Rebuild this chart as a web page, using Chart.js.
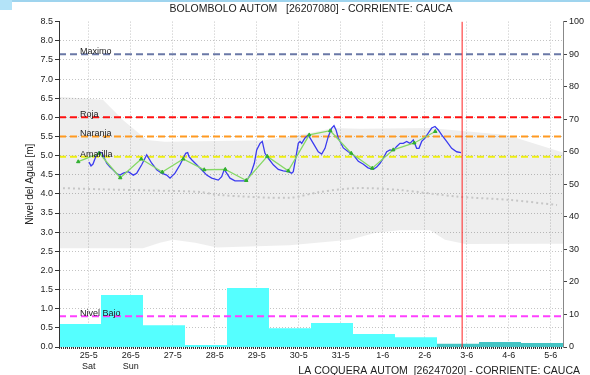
<!DOCTYPE html>
<html>
<head>
<meta charset="utf-8">
<script src="https://cdn.jsdelivr.net/npm/chart.js@4"></script>
<style>
body { margin: 0; background: #fff; }
#marco { position: relative; width: 590px; height: 375px; overflow: hidden; }
#grafico { position: absolute; left: 0; top: 0; }
.linea-sup { position: absolute; left: 0; top: 0; width: 590px; height: 2px; background: #9fd4ee; }
.caja-sup { position: absolute; left: 0; top: 0; width: 12px; height: 10px; background: #b3e3f8; }
</style>
</head>
<body>
<div id="marco">
  <canvas id="grafico" width="590" height="375"></canvas>
  <div class="linea-sup"></div>
  <div class="caja-sup"></div>
</div>
<script>
// Ejes (dias contados desde 24-5 00:00)
const diasEtiquetas = ['25-5', '26-5', '27-5', '28-5', '29-5', '30-5', '31-5', '1-6', '2-6', '3-6', '4-6', '5-6'];
const diasSemana = ['Sat', 'Sun'];
const ejeInicio = 0.2917;
const ejeFin = 12.2917;
const horaActual = 9.89;

const titulo = 'BOLOMBOLO AUTOM   [26207080] - CORRIENTE: CAUCA';
const tituloInferior = 'LA COQUERA AUTOM  [26247020] - CORRIENTE: CAUCA';

// Nivel continuo (linea azul)
const tiempoNivel = [1.006, 1.054, 1.101, 1.173, 1.244, 1.316, 1.427, 1.506, 1.584, 1.672, 1.744, 1.823, 1.942,
  2.061, 2.142, 2.261, 2.380, 2.499, 2.618, 2.737, 2.856, 2.935, 3.054, 3.173, 3.251, 3.308, 3.356, 3.387, 3.451,
  3.570, 3.689, 3.808, 3.927, 4.084, 4.165, 4.227, 4.284, 4.363, 4.482, 4.642, 4.761, 4.863, 4.942, 4.999, 5.078,
  5.132, 5.196, 5.275, 5.394, 5.513, 5.632, 5.751, 5.832, 5.870, 5.934, 5.989, 6.030, 6.070, 6.149, 6.227, 6.346,
  6.465, 6.546, 6.625, 6.704, 6.785, 6.839, 6.887, 6.942, 7.061, 7.180, 7.299, 7.418, 7.530, 7.649, 7.775, 7.856,
  7.935, 8.013, 8.094, 8.173, 8.251, 8.332, 8.411, 8.489, 8.570, 8.649, 8.727, 8.808, 8.863, 8.927, 9.006, 9.085,
  9.165, 9.244, 9.323, 9.403, 9.521, 9.641, 9.760, 9.863];
const nivelAgua = [4.83, 4.73, 4.78, 4.99, 5.10, 5.07, 4.80, 4.70, 4.62, 4.52, 4.49, 4.54, 4.58,
  4.49, 4.54, 4.76, 5.02, 4.80, 4.63, 4.54, 4.49, 4.41, 4.54, 4.76, 4.93, 5.06, 5.08, 4.97, 4.89,
  4.76, 4.63, 4.49, 4.41, 4.36, 4.45, 4.64, 4.54, 4.41, 4.34, 4.34, 4.34, 4.54, 4.80, 5.15, 5.32,
  5.37, 5.06, 4.93, 4.76, 4.64, 4.60, 4.58, 4.54, 4.58, 4.97, 5.32, 5.37, 5.32, 5.46, 5.54, 5.32,
  5.10, 5.04, 5.19, 5.50, 5.72, 5.78, 5.67, 5.46, 5.20, 5.10, 5.02, 4.85, 4.78, 4.68, 4.64, 4.70,
  4.80, 4.93, 5.10, 5.15, 5.13, 5.24, 5.32, 5.32, 5.37, 5.32, 5.41, 5.19, 5.19, 5.37, 5.46, 5.59,
  5.72, 5.76, 5.67, 5.54, 5.37, 5.19, 5.10, 5.08];

// Lecturas de mira (linea verde)
const tiempoMira = [0.75, 1.25, 1.75, 2.25, 2.75, 3.25, 3.75, 4.25, 4.75, 5.25, 5.75, 6.25, 6.75, 7.25, 7.75, 8.25, 8.75, 9.25];
const nivelMira = [4.84, 5.06, 4.42, 4.91, 4.57, 4.91, 4.63, 4.64, 4.35, 4.98, 4.60, 5.54, 5.65, 5.06, 4.67, 5.15, 5.33, 5.63];

// Banda historica y nivel medio
const bandaSupTiempo = [0.2917, 1.339, 1.815, 2.387, 2.815, 5.196, 6.268, 6.816, 7.459, 9.125, 10.958, 12.2917];
const bandaSuperior = [6.54, 6.46, 5.93, 5.41, 5.36, 5.40, 5.59, 5.72, 5.70, 5.72, 5.54, 5.08];
const bandaInfTiempo = [0.2917, 2.292, 2.696, 3.006, 3.53, 4.054, 5.79, 7.22, 7.815, 8.41, 9.125, 9.48, 9.96, 12.2917];
const bandaInferior = [2.58, 2.58, 2.72, 2.80, 2.72, 2.60, 2.66, 2.80, 2.98, 3.05, 3.05, 2.80, 2.69, 2.70];
const mediaTiempo = [0.387, 1.268, 2.458, 3.649, 4.10, 5.79, 6.506, 7.387, 8.41, 9.77, 11.03, 12.15];
const mediaNivel = [4.15, 4.12, 4.09, 4.05, 3.97, 3.90, 4.05, 4.15, 4.10, 3.93, 3.84, 3.71];

// Precipitacion diaria (eje derecho), acumulada de 7h a 7h
const inicioLluvia = [0.2917, 1.2917, 2.2917, 3.2917, 4.2917, 5.2917, 6.2917, 7.2917, 8.2917];
const lluviaObservada = [7.1, 16.0, 6.7, 0.6, 18.1, 5.8, 7.4, 4.0, 3.0];
const inicioPronostico = [9.2917, 10.2917, 11.2917];
const lluviaPronostico = [1.0, 1.55, 1.2];

// Umbrales
const umbralNombres = ['Maximo', 'Roja', 'Naranja', 'Amarilla', 'Nivel Bajo'];
const umbralValores = [7.65, 6.0, 5.5, 4.97, 0.8];

const umbralColores = ['#6a78a6', '#ff1010', '#ff9a20', '#eeee10', '#ff40ff'];
const fuente = '"Liberation Sans", Arial, sans-serif';
Chart.defaults.font.family = fuente;
Chart.defaults.color = '#222';

function puntos(xs, ys) {
  return xs.map((x, i) => ({ x: x, y: ys[i] }));
}
function escalones(inicios, valores) {
  const p = puntos(inicios, valores);
  p.push({ x: inicios[inicios.length - 1] + 1, y: valores[valores.length - 1] });
  return p;
}

const datasets = [];

datasets.push({
  data: puntos(bandaSupTiempo, bandaSuperior), yAxisID: 'y', order: 12,
  borderWidth: 0, borderColor: 'transparent', pointRadius: 0,
  fill: { target: 1 }, backgroundColor: 'rgba(0,0,0,0.065)'
});
datasets.push({
  data: puntos(bandaInfTiempo, bandaInferior), yAxisID: 'y', order: 12,
  borderWidth: 0, borderColor: 'transparent', pointRadius: 0, fill: false
});
datasets.push({
  data: puntos(mediaTiempo, mediaNivel), yAxisID: 'y', order: 11,
  borderColor: '#c6c6c6', borderWidth: 2, borderDash: [2, 3], pointRadius: 0, fill: false, tension: 0.3
});
datasets.push({
  data: escalones(inicioLluvia, lluviaObservada), yAxisID: 'y2', order: 9,
  stepped: 'before', borderWidth: 0, borderColor: 'transparent', pointRadius: 0,
  fill: 'origin', backgroundColor: '#55ffff'
});
datasets.push({
  data: escalones(inicioPronostico, lluviaPronostico), yAxisID: 'y2', order: 9,
  stepped: 'before', borderWidth: 0, borderColor: 'transparent', pointRadius: 0,
  fill: 'origin', backgroundColor: '#45c4c4'
});
umbralNombres.forEach((nombre, i) => {
  datasets.push({
    etiqueta: nombre,
    data: [{ x: ejeInicio, y: umbralValores[i] }, { x: ejeFin, y: umbralValores[i] }],
    yAxisID: 'y', order: 6,
    borderColor: umbralColores[i], borderWidth: 2, borderDash: [7, 4], pointRadius: 0, fill: false
  });
});
datasets.push({
  data: puntos(tiempoNivel, nivelAgua), yAxisID: 'y', order: 3,
  borderColor: '#3b3bef', borderWidth: 1.3, pointRadius: 0, fill: false
});
datasets.push({
  data: puntos(tiempoMira, nivelMira), yAxisID: 'y', order: 2,
  borderColor: '#86d866', borderWidth: 1.3, fill: false,
  pointStyle: 'triangle', pointRadius: 2, pointBackgroundColor: '#2fae2f', pointBorderColor: '#2fae2f', pointBorderWidth: 1
});
datasets.push({
  data: [{ x: horaActual, y: 0 }, { x: horaActual, y: 8.5 }], yAxisID: 'y', order: 1,
  borderColor: '#ff2020', borderWidth: 1, pointRadius: 0, fill: false
});

const decoracion = {
  id: 'decoracion',
  afterDatasetsDraw(chart) {
    const { ctx, chartArea, scales } = chart;
    ctx.save();
    // etiquetas de umbrales
    ctx.font = '9px ' + fuente;
    ctx.fillStyle = '#222';
    ctx.textAlign = 'left';
    ctx.textBaseline = 'alphabetic';
    chart.data.datasets.forEach(ds => {
      if (!ds.etiqueta) return;
      const y = scales.y.getPixelForValue(ds.data[0].y);
      ctx.fillText(ds.etiqueta, chartArea.left + 21, y);
    });
    // eje inferior con marcas horarias
    ctx.strokeStyle = '#333';
    ctx.lineWidth = 2;
    ctx.setLineDash([1, 1]);
    ctx.beginPath();
    ctx.moveTo(chartArea.left, chartArea.bottom + 1);
    ctx.lineTo(chartArea.right, chartArea.bottom + 1);
    ctx.stroke();
    ctx.setLineDash([]);
    // estacion de lluvia
    ctx.font = '10.5px ' + fuente;
    ctx.textAlign = 'right';
    ctx.fillText(tituloInferior, chart.width - 10, chart.height - 1);
    ctx.restore();
  }
};

new Chart(document.getElementById('grafico').getContext('2d'), {
  type: 'line',
  data: { datasets: datasets },
  options: {
    responsive: false,
    animation: false,
    layout: { padding: 0 },
    plugins: {
      legend: { display: false },
      tooltip: { enabled: false },
      title: {
        display: true, text: titulo, fullSize: false,
        font: { size: 10.5, weight: 'normal' }, color: '#222',
        padding: { top: 3, bottom: 6 }
      }
    },
    scales: {
      x: {
        type: 'linear', min: ejeInicio, max: ejeFin,
        afterBuildTicks: s => { s.ticks = diasEtiquetas.map((_, i) => ({ value: i + 1 })); },
        afterFit: s => { s.height = 28; },
        ticks: {
          autoSkip: false, maxRotation: 0, padding: 3, font: { size: 9 }, color: '#222',
          callback: (v, i) => i < diasSemana.length ? [diasEtiquetas[i], diasSemana[i]] : diasEtiquetas[i]
        },
        grid: { color: '#c4c4c4', drawTicks: false },
        border: { display: false, dash: [1, 2] }
      },
      y: {
        position: 'left', min: 0, max: 8.5,
        afterFit: s => { s.width = 59; },
        ticks: { stepSize: 0.5, padding: 2, font: { size: 9 }, color: '#222', callback: v => v.toFixed(1) },
        grid: {
          color: c => c.tick && c.tick.value === 8.5 ? 'rgba(0,0,0,0)' : '#c4c4c4',
          tickColor: '#333', tickLength: 4
        },
        border: { color: '#333', dash: [1, 2], z: 1 },
        title: { display: true, text: 'Nivel del Agua [m]', font: { size: 10 }, color: '#222', padding: { top: 24, bottom: 0 } }
      },
      y2: {
        position: 'right', min: 0, max: 100,
        afterFit: s => { s.width = 27; },
        ticks: { stepSize: 10, padding: 2, font: { size: 9 }, color: '#222' },
        grid: { drawOnChartArea: false, tickColor: '#444', tickLength: 4 },
        border: { color: '#888', z: 1 }
      }
    }
  },
  plugins: [decoracion]
});
</script>
</body>
</html>
